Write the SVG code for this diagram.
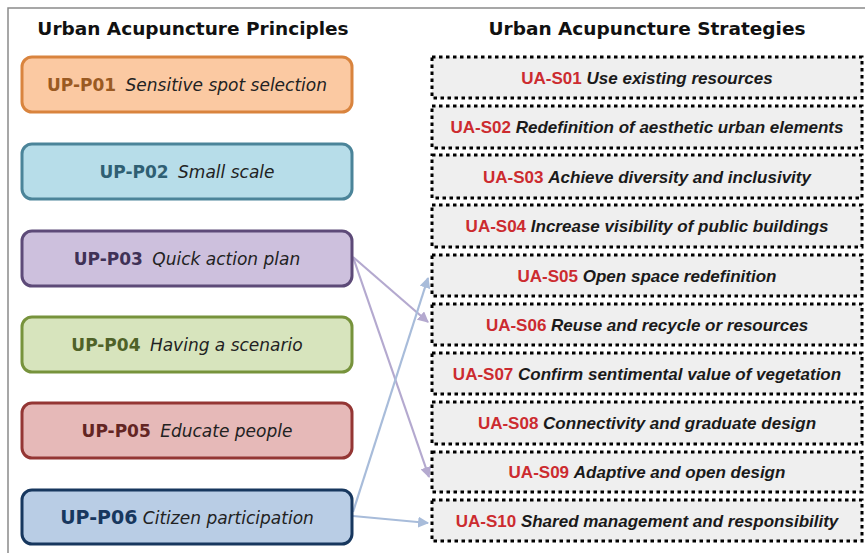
<svg xmlns="http://www.w3.org/2000/svg" width="865" height="553" viewBox="0 0 865 553">
<defs>
<style>
.title{font-family:"DejaVu Sans",sans-serif;font-weight:bold;font-size:18.5px;fill:#111;text-anchor:middle}
.pb{stroke-width:3}
.pl{font-family:"DejaVu Sans",sans-serif;font-size:17px;text-anchor:middle;fill:#222}
.pid{font-weight:bold}
.pt{font-style:italic}
.sb{fill:#efefef;stroke:#000;stroke-width:3;stroke-dasharray:3.5 3.5}
.sl{font-family:"Liberation Sans",Arial,sans-serif;font-size:17px;font-weight:bold;text-anchor:middle;fill:#1a1a1a}
.sid{fill:#cc2b2f;font-style:normal}
.st{font-style:italic}
.cp{stroke:#b4a9cf;stroke-width:2.2;fill:none}
.cb{stroke:#a8bcda;stroke-width:2.2;fill:none}
</style>
<marker id="ap" viewBox="0 0 10 10" refX="9" refY="5" markerWidth="5" markerHeight="5" orient="auto" markerUnits="strokeWidth"><path d="M0,0 L10,5 L0,10 z" fill="#b4a9cf"/></marker>
<marker id="ab" viewBox="0 0 10 10" refX="9" refY="5" markerWidth="5" markerHeight="5" orient="auto" markerUnits="strokeWidth"><path d="M0,0 L10,5 L0,10 z" fill="#a8bcda"/></marker>
</defs>
<rect x="0" y="0" width="865" height="553" fill="#ffffff"/>
<rect x="8" y="8" width="880" height="570" fill="none" stroke="#8a8a8a" stroke-width="1.5"/>
<text class="title" x="193" y="35">Urban Acupuncture Principles</text>
<text class="title" x="647" y="35">Urban Acupuncture Strategies</text>

<g id="connectors">
<line class="cp" x1="353" y1="257" x2="428" y2="322" marker-end="url(#ap)"/>
<line class="cp" x1="353" y1="257" x2="429" y2="477" marker-end="url(#ap)"/>
<line class="cb" x1="353" y1="512" x2="428" y2="278" marker-end="url(#ab)"/>
<line class="cb" x1="353" y1="516" x2="428" y2="523" marker-end="url(#ab)"/>
</g>

<g id="UP-P01"><rect class="pb" x="22" y="57" width="330" height="55" rx="10" fill="#fbc9a2" stroke="#d9843e"/><text class="pl" x="187" y="91"><tspan class="pid" fill="#9a5a22">UP-P01</tspan> <tspan class="pt" dx="4">Sensitive spot selection</tspan></text></g>
<g id="UP-P02"><rect class="pb" x="22" y="144" width="330" height="55" rx="10" fill="#b7dde9" stroke="#4b8499"/><text class="pl" x="187" y="178"><tspan class="pid" fill="#2f5f73">UP-P02</tspan> <tspan class="pt" dx="4">Small scale</tspan></text></g>
<g id="UP-P03"><rect class="pb" x="22" y="231" width="330" height="55" rx="10" fill="#cdc0dd" stroke="#5d4a78"/><text class="pl" x="187" y="265"><tspan class="pid" fill="#3f3156">UP-P03</tspan> <tspan class="pt" dx="4">Quick action plan</tspan></text></g>
<g id="UP-P04"><rect class="pb" x="22" y="317" width="330" height="55" rx="10" fill="#d7e4bd" stroke="#77933c"/><text class="pl" x="187" y="351"><tspan class="pid" fill="#4f6228">UP-P04</tspan> <tspan class="pt" dx="4">Having a scenario</tspan></text></g>
<g id="UP-P05"><rect class="pb" x="22" y="403" width="330" height="55" rx="10" fill="#e6b9b8" stroke="#943634"/><text class="pl" x="187" y="437"><tspan class="pid" fill="#632523">UP-P05</tspan> <tspan class="pt" dx="4">Educate people</tspan></text></g>
<g id="UP-P06"><rect class="pb" x="22" y="490" width="330" height="54" rx="10" fill="#b9cde5" stroke="#17375e"/><text class="pl" x="187" y="524"><tspan class="pid" fill="#17375e" font-size="19">UP-P06</tspan> <tspan class="pt">Citizen participation</tspan></text></g>

<g id="UA-S01"><rect class="sb" x="432" y="57" width="430" height="41"/><text class="sl" x="647" y="83.5"><tspan class="sid">UA-S01</tspan> <tspan class="st">Use existing resources</tspan></text></g>
<g id="UA-S02"><rect class="sb" x="432" y="106" width="430" height="42"/><text class="sl" x="647" y="133"><tspan class="sid">UA-S02</tspan> <tspan class="st">Redefinition of aesthetic urban elements</tspan></text></g>
<g id="UA-S03"><rect class="sb" x="432" y="155" width="430" height="43"/><text class="sl" x="647" y="182.5"><tspan class="sid">UA-S03</tspan> <tspan class="st">Achieve diversity and inclusivity</tspan></text></g>
<g id="UA-S04"><rect class="sb" x="432" y="205" width="430" height="42"/><text class="sl" x="647" y="232"><tspan class="sid">UA-S04</tspan> <tspan class="st">Increase visibility of public buildings</tspan></text></g>
<g id="UA-S05"><rect class="sb" x="432" y="255" width="430" height="41"/><text class="sl" x="647" y="281.5"><tspan class="sid">UA-S05</tspan> <tspan class="st">Open space redefinition</tspan></text></g>
<g id="UA-S06"><rect class="sb" x="432" y="304" width="430" height="41"/><text class="sl" x="647" y="330.5"><tspan class="sid">UA-S06</tspan> <tspan class="st">Reuse and recycle or resources</tspan></text></g>
<g id="UA-S07"><rect class="sb" x="432" y="353" width="430" height="41"/><text class="sl" x="647" y="379.5"><tspan class="sid">UA-S07</tspan> <tspan class="st">Confirm sentimental value of vegetation</tspan></text></g>
<g id="UA-S08"><rect class="sb" x="432" y="402" width="430" height="42"/><text class="sl" x="647" y="429"><tspan class="sid">UA-S08</tspan> <tspan class="st">Connectivity and graduate design</tspan></text></g>
<g id="UA-S09"><rect class="sb" x="432" y="452" width="430" height="40"/><text class="sl" x="647" y="478"><tspan class="sid">UA-S09</tspan> <tspan class="st">Adaptive and open design</tspan></text></g>
<g id="UA-S10"><rect class="sb" x="432" y="500" width="430" height="41"/><text class="sl" x="647" y="526.5"><tspan class="sid">UA-S10</tspan> <tspan class="st">Shared management and responsibility</tspan></text></g>
</svg>
